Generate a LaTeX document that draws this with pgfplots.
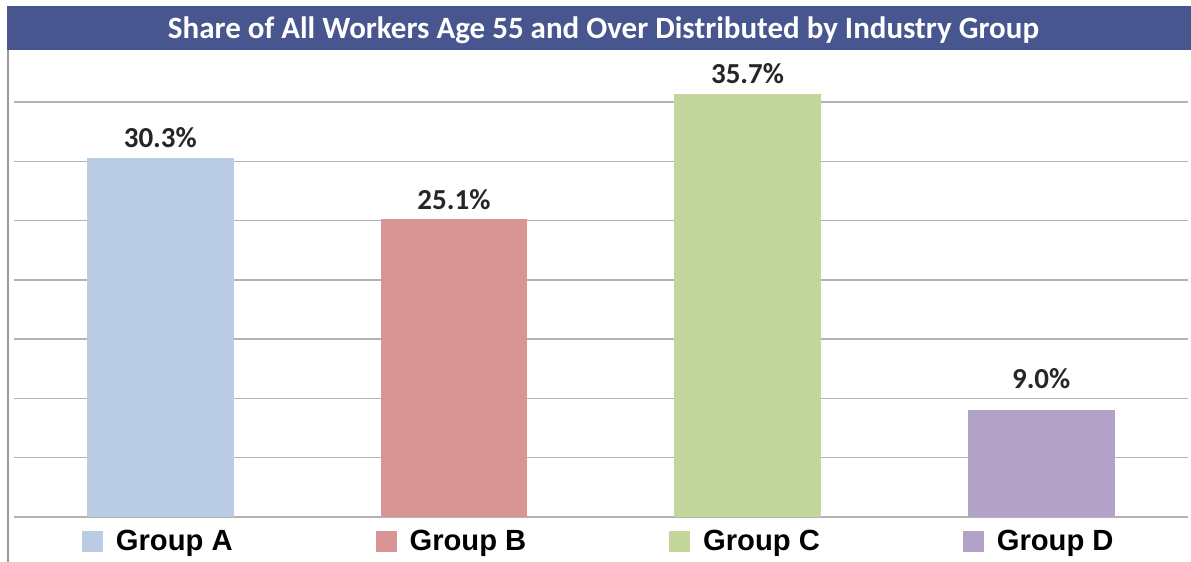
\documentclass[border=0pt]{standalone}
\usepackage{pgfplots}
\pgfplotsset{compat=1.18}
\usepackage{fontspec}
\setmainfont{Liberation Sans}
\newfontfamily\calibri{Carlito}
\definecolor{cA}{HTML}{B9CCE4}
\definecolor{cB}{HTML}{D99594}
\definecolor{cC}{HTML}{C3D69B}
\definecolor{cD}{HTML}{B2A2C7}
\definecolor{titlebar}{HTML}{47568F}
\definecolor{gridgray}{HTML}{B3B3B3}
\definecolor{labelgray}{HTML}{262626}
\newcommand{\sq}[1]{\textcolor{#1}{\rule[-1bp]{10.5bp}{10.5bp}}\hspace{6.5bp}}
\begin{document}
\begin{tikzpicture}
\useasboundingbox (0,0) rectangle (595.5bp,281bp);
\fill[titlebar] (3.5bp,256bp) rectangle (595.5bp,278bp);
\node[anchor=base, text=white, font=\calibri\bfseries\fontsize{15.5bp}{18bp}\selectfont] at (301.75bp,261.5bp) {Share of All Workers Age 55 and Over Distributed by Industry Group};
\draw[gray!80, line width=0.75bp] (4bp,0bp) -- (4bp,256bp);
\begin{axis}[
  at={(6.75bp,22.5bp)}, anchor=south west,
  scale only axis, width=587.25bp, height=233.5bp,
  xmin=-0.5, xmax=3.5, ymin=0, ymax=39.4,
  clip=false,
  axis line style={draw=none},
  major tick length=0pt,
  ytick={0,5,...,35}, yticklabels={},
  ymajorgrids, grid style={gridgray, line width=0.75bp},
  xtick={0,1,2,3},
  xticklabels={{\sq{cA}Group A},{\sq{cB}Group B},{\sq{cC}Group C},{\sq{cD}Group D}},
  xticklabel style={anchor=base, yshift=-16.5bp, xshift=-1.5bp, font=\bfseries\fontsize{14.6bp}{16bp}\selectfont},
  ybar, bar width=0.5, bar shift=0pt,
  nodes near coords={\pgfmathprintnumber[fixed,fixed zerofill,precision=1,assume math mode=true]{\pgfplotspointmeta}\%},
  nodes near coords style={anchor=base, inner sep=0pt, yshift=5bp, text=labelgray, font=\calibri\bfseries\fontsize{14.5bp}{16bp}\selectfont},
]
\addplot[fill=cA, draw=none] coordinates {(0,30.3)};
\addplot[fill=cB, draw=none] coordinates {(1,25.1)};
\addplot[fill=cC, draw=none] coordinates {(2,35.7)};
\addplot[fill=cD, draw=none, every node near coord/.append style={yshift=6bp}] coordinates {(3,9.0)};
\end{axis}
\end{tikzpicture}
\end{document}
